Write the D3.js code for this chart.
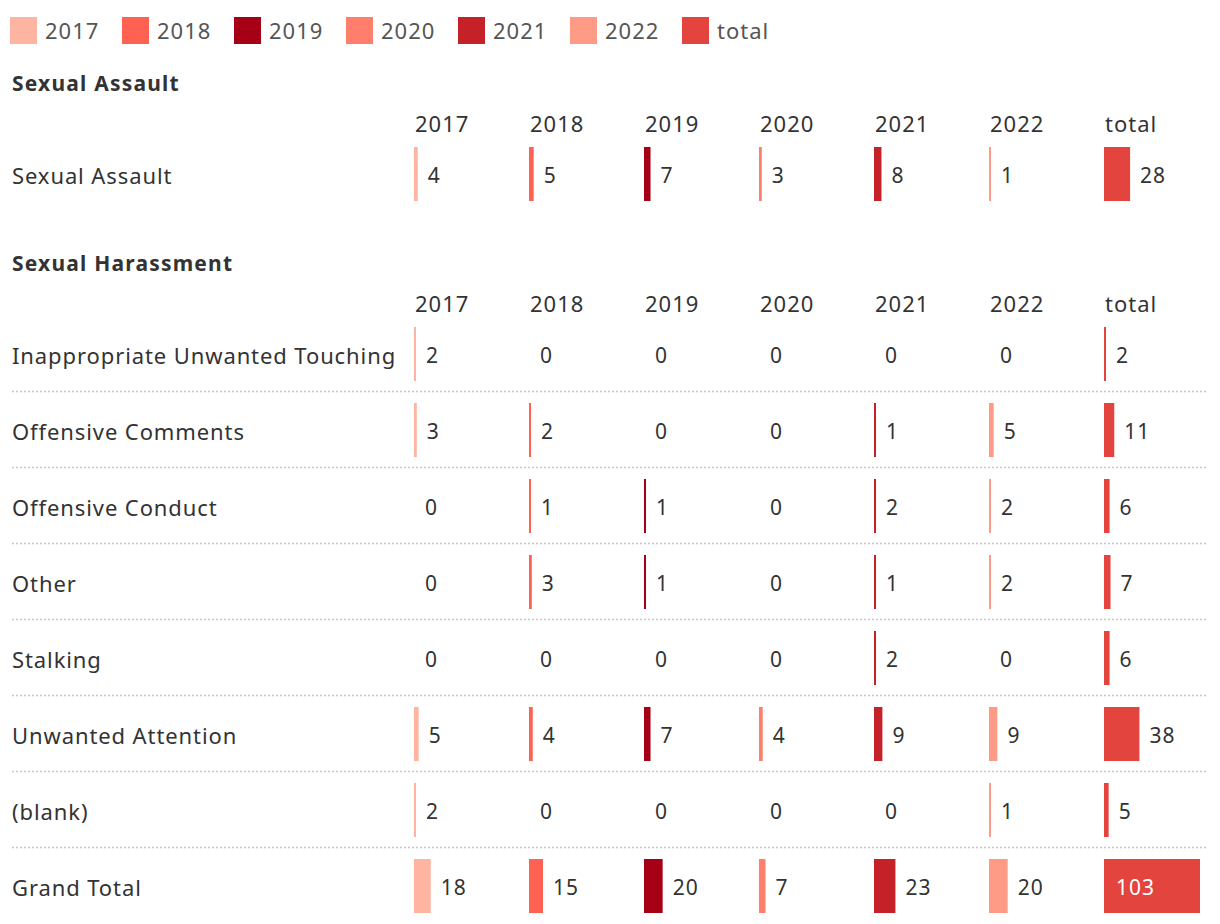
<!DOCTYPE html>
<html>
<head>
<meta charset="utf-8">
<script src="https://cdn.jsdelivr.net/npm/d3@7/dist/d3.min.js"></script>
<style>
  body { margin: 0; background: #fff; }
  svg { display: block; font-family: "Noto Sans", "Open Sans", sans-serif; }
</style>
</head>
<body>
<svg id="chart" width="1220" height="924"></svg>
<script>
// ---------- data ----------
const columns = ["2017", "2018", "2019", "2020", "2021", "2022", "total"];
const colors = ["#fdb5a1", "#ff6153", "#a50016", "#ff7e6c", "#c52128", "#fe9b87", "#e3443e"];

const assaultRows = ["Sexual Assault"];
const assaultValues = [[4, 5, 7, 3, 8, 1, 28]];

const harassRows = ["Inappropriate Unwanted Touching", "Offensive Comments", "Offensive Conduct",
  "Other", "Stalking", "Unwanted Attention", "(blank)", "Grand Total"];
const harassValues = [
  [2, 0, 0, 0, 0, 0, 2],
  [3, 2, 0, 0, 1, 5, 11],
  [0, 1, 1, 0, 2, 2, 6],
  [0, 3, 1, 0, 1, 2, 7],
  [0, 0, 0, 0, 2, 0, 6],
  [5, 4, 7, 4, 9, 9, 38],
  [2, 0, 0, 0, 0, 1, 5],
  [18, 15, 20, 7, 23, 20, 103]
];

// ---------- scales ----------
const svg = d3.select("#chart");
const color = d3.scaleOrdinal().domain(columns).range(colors);
const xCol = d3.scalePoint().domain(columns).range([414, 1104]);
const w = d3.scaleLinear().domain([0, 103]).range([0, 96]);
const legendX = d3.scalePoint().domain(columns).range([10, 682]);

const textColor = "#333333";

// ---------- legend ----------
const lg = svg.append("g");
const li = lg.selectAll("g").data(columns).join("g")
  .attr("transform", d => `translate(${legendX(d)},17)`);
li.append("rect").attr("width", 27).attr("height", 27).attr("fill", d => color(d));
li.append("text").attr("x", 35).attr("y", 22).text(d => d)
  .attr("font-size", 22).attr("letter-spacing", 1).attr("fill", "#555");

// ---------- section drawer ----------
function drawSection(title, titleY, headerY, rows, values, firstRowY) {
  const g = svg.append("g");
  g.append("text").attr("x", 12).attr("y", titleY).text(title)
    .attr("font-size", 21).attr("font-weight", "bold").attr("letter-spacing", 1.2)
    .attr("fill", textColor);

  g.selectAll("text.hdr").data(columns).join("text").attr("class", "hdr")
    .attr("x", d => xCol(d) + 1).attr("y", headerY).text(d => d)
    .attr("font-size", 22).attr("letter-spacing", 1).attr("fill", textColor);

  const yRow = d3.scalePoint().domain(rows).range([firstRowY, firstRowY + 76 * (rows.length - 1)]);

  // separators between rows
  g.selectAll("line.sep").data(rows.slice(0, -1)).join("line").attr("class", "sep")
    .attr("x1", 12).attr("x2", 1208)
    .attr("y1", d => yRow(d) + 36.5).attr("y2", d => yRow(d) + 36.5)
    .attr("stroke", "#c8c8c8").attr("stroke-width", 1.5).attr("stroke-dasharray", "2,2");

  rows.forEach((r, ri) => {
    const cy = yRow(r);
    g.append("text").attr("x", 12).attr("y", cy + 9).text(r)
      .attr("font-size", 22).attr("letter-spacing", 0.9).attr("fill", textColor);
    const cells = columns.map((c, ci) => ({ c, v: values[ri][ci] }));
    const cg = g.append("g");
    cg.selectAll("rect").data(cells.filter(d => d.v > 0)).join("rect")
      .attr("x", d => xCol(d.c)).attr("y", cy - 28)
      .attr("width", d => Math.max(2, w(d.v))).attr("height", 54)
      .attr("fill", d => color(d.c));
    cg.selectAll("text").data(cells).join("text")
      .attr("x", d => {
        const bw = w(d.v);
        if (bw > 80) return xCol(d.c) + 12;
        return xCol(d.c) + (d.v > 0 ? Math.max(2, bw) + 10 : 11);
      })
      .attr("y", cy + 8).text(d => d.v)
      .attr("font-size", 21).attr("letter-spacing", 1)
      .attr("fill", d => w(d.v) > 80 ? "#fff" : textColor);
  });
}

drawSection("Sexual Assault", 91, 132, assaultRows, assaultValues, 175);
drawSection("Sexual Harassment", 271, 312, harassRows, harassValues, 355);
</script>
</body>
</html>
